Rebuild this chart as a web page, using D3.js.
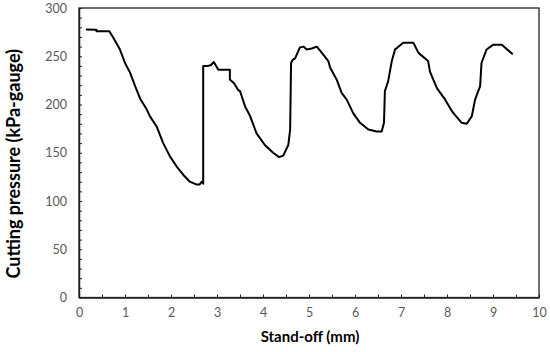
<!DOCTYPE html>
<html><head><meta charset="utf-8">
<script src="https://cdn.jsdelivr.net/npm/d3@7"></script>
<style>body{margin:0;background:#fff}svg{display:block}</style>
</head><body>
<script>
const xTicks = [0,1,2,3,4,5,6,7,8,9,10];
const yTicks = [0,50,100,150,200,250,300];
const standOff = [0.15,0.38,0.38,0.66,0.75,0.89,1.0,1.11,1.22,1.33,1.47,1.54,1.69,1.83,1.98,2.12,2.27,2.41,2.56,2.62,2.67,2.70,2.70,2.81,2.87,2.93,3.03,3.28,3.28,3.37,3.46,3.5,3.61,3.72,3.86,4.04,4.22,4.35,4.44,4.55,4.59,4.61,4.64,4.70,4.80,4.88,4.95,5.06,5.17,5.28,5.42,5.46,5.60,5.71,5.82,5.96,6.11,6.29,6.47,6.58,6.63,6.65,6.72,6.80,6.87,7.05,7.27,7.38,7.59,7.63,7.78,7.96,8.07,8.14,8.32,8.43,8.54,8.61,8.72,8.75,8.86,9.01,9.19,9.43];
const pressure = [277.7,277.5,276,276,269,257,243,233,219,206,195,188,177,160,146,136,127,120,117,117,120,118,240,240,241,244,236,236,226,222,215,214,198,188,170,158,150,145.5,147,158,174,243,246,248,259,260,257,258,260,253.5,245,238,226,212,205,191,181,174,172,172,181,214,224,245,257,264,264,253.5,245,234,217,205,196,191,181,180,188,205,219,243,257,262,262,252];

const W = 550, H = 352;
const m = {left:79, right:11, top:8, bottom:54.5};
const svg = d3.select("body").append("svg").attr("width",W).attr("height",H);
const x = d3.scaleLinear().domain([0,10]).range([m.left, W-m.right]);
const y = d3.scaleLinear().domain([0,300]).range([H-m.bottom, m.top]);

// frame
svg.append("rect").attr("x",x(0)).attr("y",y(300)).attr("width",x(10)-x(0)).attr("height",y(0)-y(300))
  .attr("fill","none").attr("stroke","#222").attr("stroke-width",1.3);

const font = "Lato, 'Open Sans', sans-serif";
// y axis
const ya = svg.append("g").attr("transform",`translate(${x(0)},0)`);
ya.call(d3.axisRight(y).tickValues(d3.range(0,301,10)).tickSize(3).tickFormat(""));
ya.call(g=>g.select(".domain").remove());
ya.selectAll("line").attr("stroke","#222");
const ya2 = svg.append("g").attr("transform",`translate(${x(0)},0)`);
ya2.call(d3.axisLeft(y).tickValues(yTicks).tickSize(0).tickPadding(12));
ya2.select(".domain").attr("stroke","#222").attr("stroke-width",1.5);
ya2.selectAll("text").attr("font-family",font).attr("font-size",12.5).attr("fill","#595959");

// x axis
const xa = svg.append("g").attr("transform",`translate(0,${y(0)})`);
xa.call(d3.axisTop(x).tickValues(d3.range(0,10.01,0.5)).tickSize(3).tickFormat(""));
xa.call(g=>g.select(".domain").remove());
xa.selectAll("line").attr("stroke","#222");
const xa2 = svg.append("g").attr("transform",`translate(0,${y(0)})`);
xa2.call(d3.axisBottom(x).tickValues(xTicks).tickSize(0).tickPadding(11).tickFormat(d3.format("d")));
xa2.select(".domain").attr("stroke","#222").attr("stroke-width",1.5);
xa2.selectAll("text").attr("font-family",font).attr("font-size",12.5).attr("fill","#595959");

// line
const pts = standOff.map((s,i)=>[s,pressure[i]]);
svg.append("path").datum(pts)
  .attr("d", d3.line().x(d=>x(d[0])).y(d=>y(d[1])))
  .attr("fill","none").attr("stroke","#000").attr("stroke-width",2).attr("stroke-linejoin","round");

// titles
svg.append("text").attr("x",(x(0)+x(10))/2 + 1).attr("y",342)
  .attr("text-anchor","middle").attr("font-family",font).attr("font-weight","bold").attr("font-size",15)
  .attr("fill","#000").text("Stand-off (mm)");
svg.append("text").attr("transform",`translate(20,${(y(0)+y(300))/2 + 11}) rotate(-90)`)
  .attr("text-anchor","middle").attr("font-family",font).attr("font-weight","bold").attr("font-size",18)
  .attr("fill","#000").text("Cutting pressure (kPa-gauge)");
</script>
</body></html>
